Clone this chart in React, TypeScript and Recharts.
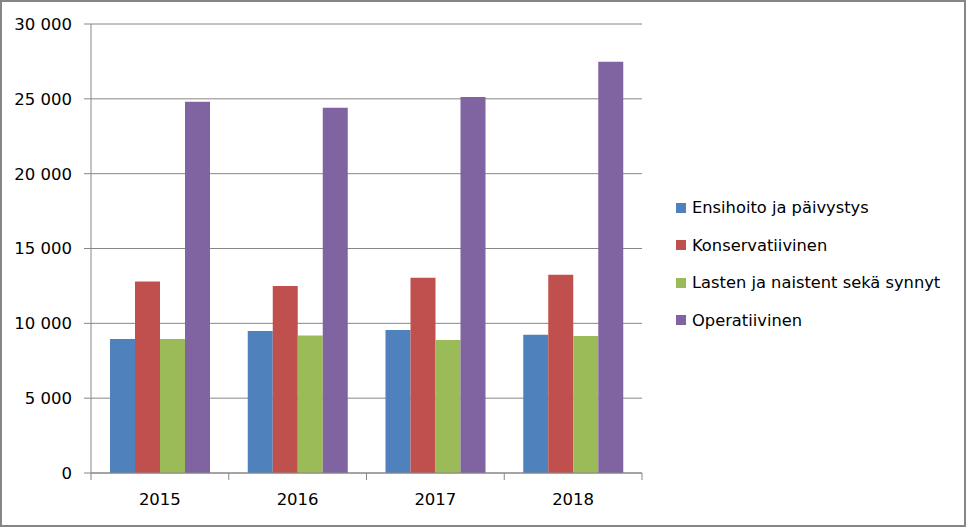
import React from 'react';
import { BarChart, Bar, XAxis, YAxis, CartesianGrid } from 'recharts';

const years = ['2015', '2016', '2017', '2018'];
const ensihoito = [8960, 9490, 9560, 9230];
const konservatiivinen = [12790, 12500, 13040, 13240];
const lastenNaisten = [8960, 9180, 8890, 9160];
const operatiivinen = [24800, 24400, 25130, 27470];
const yTicks = [0, 5000, 10000, 15000, 20000, 25000, 30000];

const seriesDefs = [
  { key: 'ensihoito', name: 'Ensihoito ja päivystys', color: '#4F81BD' },
  { key: 'konservatiivinen', name: 'Konservatiivinen', color: '#C0504D' },
  { key: 'lastenNaisten', name: 'Lasten ja naistent sekä synnyt', color: '#9BBB59' },
  { key: 'operatiivinen', name: 'Operatiivinen', color: '#8064A2' },
];

const data = years.map((y, i) => ({
  year: y,
  ensihoito: ensihoito[i],
  konservatiivinen: konservatiivinen[i],
  lastenNaisten: lastenNaisten[i],
  operatiivinen: operatiivinen[i],
}));

const W = 966;
const H = 527;
const xAxisHeight = 30;
const margin = { top: 24, right: 324, bottom: 54 - xAxisHeight, left: 0 };
const yAxisWidth = 91;
const plotWidth = W - margin.left - margin.right - yAxisWidth;
const band = plotWidth / years.length;
const font = '"DejaVu Sans", sans-serif';

const fmt = (v: number) => v.toLocaleString('en-US').replace(/,/g, ' ');

function XTick(props: any) {
  const { x, y, payload, index } = props;
  const left = x - band / 2;
  const axisY = y - 8;
  return (
    <g>
      <line x1={left} y1={axisY} x2={left} y2={axisY + 7} stroke="#868686" />
      {index === years.length - 1 && (
        <line x1={left + band} y1={axisY} x2={left + band} y2={axisY + 7} stroke="#868686" />
      )}
      <text x={x} y={axisY + 32} textAnchor="middle" fontSize={16.5} fill="#000" fontFamily={font}>
        {payload.value}
      </text>
    </g>
  );
}

function LegendBox() {
  return (
    <div style={{ position: 'absolute', left: 676, top: 189, fontFamily: font, fontSize: 16.3, color: '#000' }}>
      {seriesDefs.map((s) => (
        <div key={s.key} style={{ display: 'flex', alignItems: 'center', height: 37.5 }}>
          <span style={{ width: 10, height: 10, background: s.color, marginRight: 6, display: 'inline-block' }} />
          <span>{s.name}</span>
        </div>
      ))}
    </div>
  );
}

export default function App() {
  return (
    <div
      style={{
        position: 'fixed',
        left: 0,
        top: 0,
        width: W,
        height: H,
        background: '#fff',
        boxSizing: 'border-box',
        border: '2px solid #868686',
      }}
    >
      <div style={{ position: 'absolute', left: -2, top: -2 }}>
        <BarChart width={W} height={H} data={data} margin={margin} barCategoryGap={19} barGap={0}>
          <CartesianGrid vertical={false} stroke="#868686" />
          <XAxis
            dataKey="year"
            height={xAxisHeight}
            axisLine={{ stroke: '#868686' }}
            tickLine={false}
            tick={<XTick />}
            interval={0}
          />
          <YAxis
            width={yAxisWidth}
            domain={[0, 30000]}
            ticks={yTicks}
            tickFormatter={fmt}
            axisLine={{ stroke: '#868686' }}
            tickLine={{ stroke: '#868686' }}
            tickSize={7}
            tickMargin={12}
            tick={{ fontSize: 16.5, fill: '#000', fontFamily: font }}
          />
          {seriesDefs.map((s) => (
            <Bar key={s.key} dataKey={s.key} name={s.name} fill={s.color} isAnimationActive={false} />
          ))}
        </BarChart>
        <LegendBox />
      </div>
    </div>
  );
}
